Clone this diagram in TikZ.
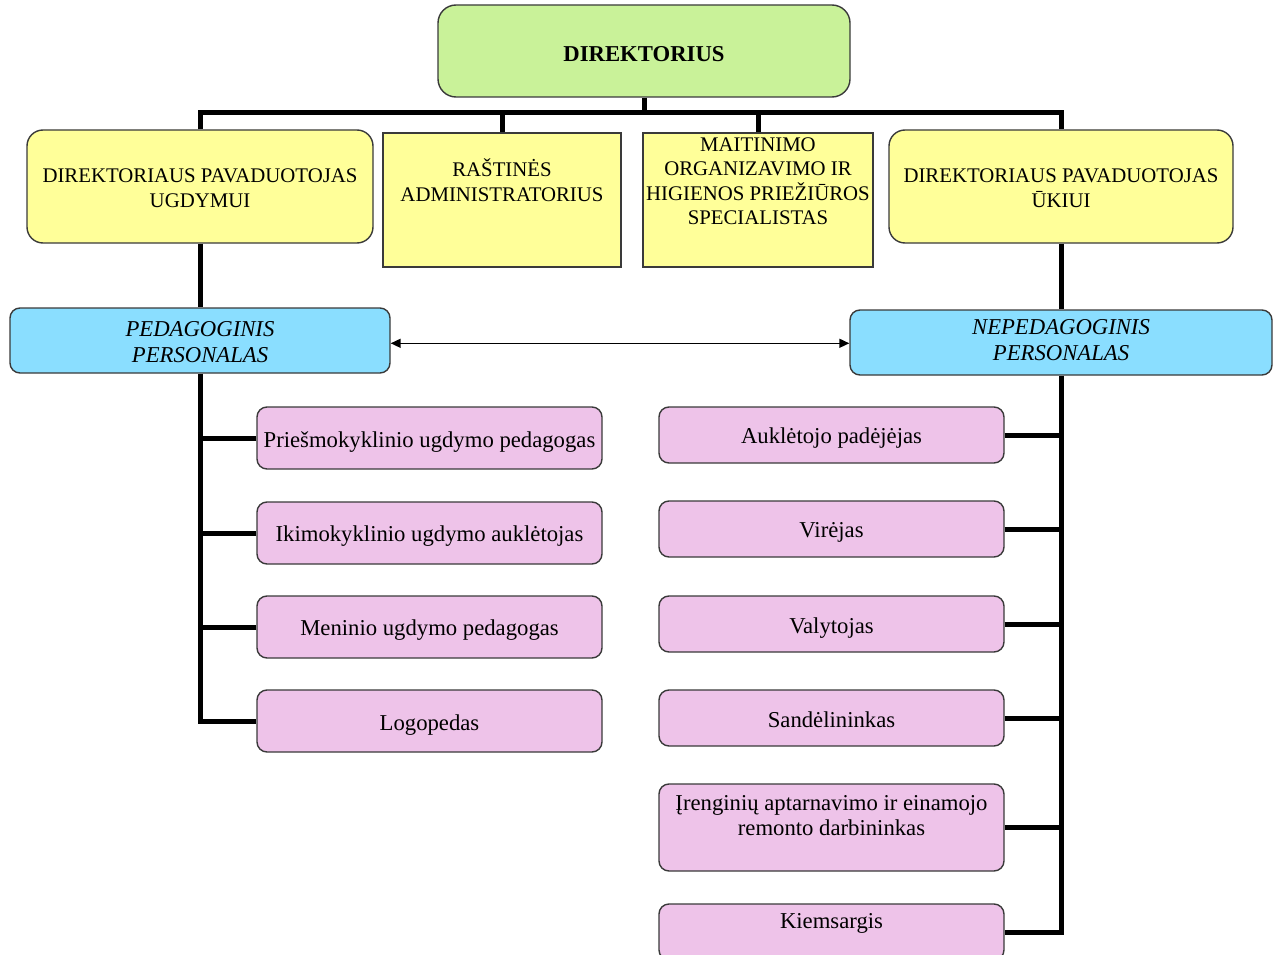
\documentclass[tikz,border=0pt]{standalone}
\usepackage{fontspec}
\setmainfont{Liberation Serif}
\usetikzlibrary{arrows.meta,calc}
\definecolor{cgreen}{HTML}{C9F299}
\definecolor{cyellow}{HTML}{FFFF99}
\definecolor{cblue}{HTML}{8ADEFF}
\definecolor{cpink}{HTML}{EEC3E9}
\definecolor{cborder}{HTML}{3A3A3A}
\newcommand\fyel{\fontsize{20.8}{24.5}\selectfont}
\newcommand\fpink{\fontsize{22.7}{25}\selectfont}
\newcommand\fblue{\fontsize{22.7}{26.5}\selectfont}
\tikzset{
  basebox/.style={draw=cborder, line width=1.4pt, inner sep=0pt, align=center},
  greenbox/.style={basebox, fill=cgreen, rounded corners=18pt},
  ybox/.style={basebox, fill=cyellow, rounded corners=16pt},
  ysq/.style={basebox, fill=cyellow},
  bluebox/.style={basebox, fill=cblue, rounded corners=10pt},
  pinkbox/.style={basebox, fill=cpink, rounded corners=10pt},
  txt/.style={inner sep=0pt, align=center},
  ytxt/.style={txt, font=\fyel},
  ptxt/.style={txt, font=\fpink},
  btxt/.style={txt, font=\fblue\itshape},
  gtxt/.style={txt, font=\fpink\bfseries},
  conn/.style={line width=5pt, black},
  dbl/.style={line width=1.6pt, black, {Triangle[length=10pt,width=9pt]}-{Triangle[length=10pt,width=9pt]}}
}
\begin{document}
\begin{tikzpicture}[x=1pt,y=-1pt]
\useasboundingbox (0,0) rectangle (1278,955);
% top level
\node[greenbox, minimum width=412pt, minimum height=92pt] (dir) at (644,51) {};
\node[gtxt] (dirt) at ($(dir)+(0,3)$) {DIREKTORIUS};
\node[ybox, minimum width=346pt, minimum height=113pt] (ug) at (200,186.5) {};
\node[ytxt] (ugt) at ($(ug)+(0,1.5)$) {DIREKTORIAUS PAVADUOTOJAS\\UGDYMUI};
\node[ysq, minimum width=238pt, minimum height=134pt] (ras) at (502,200) {};
\node[ytxt] (rast) at (502,180) {RAŠTINĖS\\ADMINISTRATORIUS};
\node[ysq, minimum width=230pt, minimum height=134pt] (mai) at (758,200) {};
\node[ytxt] (mait) at (758,181) {MAITINIMO\\ORGANIZAVIMO IR\\HIGIENOS PRIEŽIŪROS\\SPECIALISTAS};
\node[ybox, minimum width=344pt, minimum height=113pt] (uk) at (1061,186.5) {};
\node[ytxt] (ukt) at ($(uk)+(0,1.5)$) {DIREKTORIAUS PAVADUOTOJAS\\ŪKIUI};
% personnel
\node[bluebox, minimum width=380pt, minimum height=65pt] (ped) at (200,340.5) {};
\node[btxt] (pedt) at ($(ped)+(0,1.5)$) {PEDAGOGINIS\\PERSONALAS};
\node[bluebox, minimum width=422pt, minimum height=65pt] (nep) at (1061,342.5) {};
\node[btxt] (nept) at ($(nep)+(0,-2.5)$) {NEPEDAGOGINIS\\PERSONALAS};
% left pink
\node[pinkbox, minimum width=345pt, minimum height=62pt] (p1) at (429.5,438) {};
\node[ptxt] (p1t) at ($(p1)+(0,4)$) {Priešmokyklinio ugdymo pedagogas};
\node[pinkbox, minimum width=345pt, minimum height=62pt] (p2) at (429.5,533) {};
\node[ptxt] (p2t) at ($(p2)+(0,3)$) {Ikimokyklinio ugdymo auklėtojas};
\node[pinkbox, minimum width=345pt, minimum height=62pt] (p3) at (429.5,627) {};
\node[ptxt] (p3t) at ($(p3)+(0,3)$) {Meninio ugdymo pedagogas};
\node[pinkbox, minimum width=345pt, minimum height=62pt] (p4) at (429.5,721) {};
\node[ptxt] (p4t) at ($(p4)+(0,4)$) {Logopedas};
% right pink
\node[pinkbox, minimum width=345pt, minimum height=56pt] (n1) at (831.5,435) {};
\node[ptxt] (n1t) at ($(n1)+(0,3)$) {Auklėtojo padėjėjas};
\node[pinkbox, minimum width=345pt, minimum height=56pt] (n2) at (831.5,529) {};
\node[ptxt] (n2t) at ($(n2)+(0,3)$) {Virėjas};
\node[pinkbox, minimum width=345pt, minimum height=56pt] (n3) at (831.5,624) {};
\node[ptxt] (n3t) at ($(n3)+(0,4)$) {Valytojas};
\node[pinkbox, minimum width=345pt, minimum height=56pt] (n4) at (831.5,718) {};
\node[ptxt] (n4t) at ($(n4)+(0,2)$) {Sandėlininkas};
\node[pinkbox, minimum width=345pt, minimum height=87pt] (n5) at (831.5,827.5) {};
\node[ptxt] (n5t) at (831.5,815.5) {Įrenginių aptarnavimo ir einamojo\\remonto darbininkas};
\node[pinkbox, minimum width=345pt, minimum height=56pt] (n6) at (831.5,932) {};
\node[ptxt] (n6t) at (831.5,923) {Kiemsargis};
% bus
\coordinate (bus) at (644,113);
\draw[conn] (dir.south) -- (bus);
\draw[conn] (ug.north) -- (ug.north |- bus) -- (uk.north |- bus) -- (uk.north);
\draw[conn] (ras.north) -- (ras.north |- bus);
\draw[conn] (mai.north) -- (mai.north |- bus);
\draw[conn] (ug.south) -- (ped.north);
\draw[conn] (uk.south) -- (nep.north);
% left tree
\draw[conn] (ped.south) -- (ped.south |- p4.west) -- (p4.west);
\foreach \b in {p1,p2,p3} \draw[conn] (\b.west) -- (\b.west -| ped.south);
% right tree
\draw[conn] (nep.south) -- (nep.south |- n6.east) -- (n6.east);
\foreach \b in {n1,n2,n3,n4,n5} \draw[conn] (\b.east) -- (\b.east -| nep.south);
% arrow
\coordinate (arrL) at ($(ped.east)+(0,2.8)$);
\draw[dbl] (arrL) -- (arrL -| nep.west);
\end{tikzpicture}
\end{document}
